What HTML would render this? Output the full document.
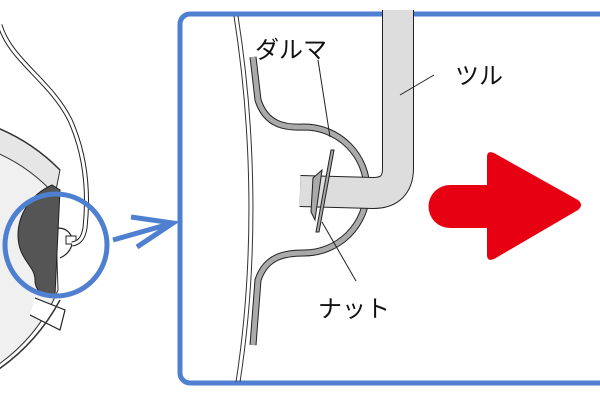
<!DOCTYPE html>
<html><head><meta charset="utf-8"><style>html,body{margin:0;padding:0;background:#fff}svg{display:block}text{font-family:"Liberation Sans","Noto Sans CJK JP",sans-serif;font-size:24px;fill:#111}</style></head>
<body>
<svg width="600" height="400" viewBox="0 0 600 400" xmlns="http://www.w3.org/2000/svg">
<!-- left helmet -->
<path d="M-10,125 A190,190 0 0 1 60,170 L55,195 A170,170 0 0 0 -10,150 Z" fill="#e6e6e6" stroke="#333" stroke-width="1"/>
<path d="M-10,150 A170,170 0 0 1 55,195 L58,290 A170,170 0 0 1 -10,370 Z" fill="#f0f0f0" stroke="#333" stroke-width="1"/>
<path d="M-10,125 A190,190 0 0 1 60,170" fill="none" stroke="#333" stroke-width="1.5"/>
<path d="M52,185 C30,195 18,215 18,235 C18,260 35,265 35,280 C35,292 45,297 55,295 L60,190 Z" fill="#555" stroke="#222" stroke-width="1"/>
<path d="M58,228 C75,228 78,250 60,258" fill="none" stroke="#222" stroke-width="1.2"/>
<rect x="66" y="236" width="10" height="8" fill="#fff" stroke="#222" stroke-width="1"/>
<path d="M35,298 L65,310 L60,330 L30,315" fill="#fff" stroke="#222" stroke-width="1.2"/>
<path d="M-10,375 A200,200 0 0 0 60,300" fill="none" stroke="#333" stroke-width="1.5"/>
<path d="M0,25 C10,60 50,80 70,120 C88,160 88,200 85,228 C83,240 78,243 72,244" fill="none" stroke="#222" stroke-width="5"/>
<path d="M0,25 C10,60 50,80 70,120 C88,160 88,200 85,228 C83,240 78,243 72,244" fill="none" stroke="#fff" stroke-width="3"/>
<circle cx="56" cy="245" r="51" fill="none" stroke="#4f7fd0" stroke-width="5"/>
<path d="M113,240 L173,223 M131,217 L173,223 L137,247" fill="none" stroke="#4f7fd0" stroke-width="5"/>
<!-- box -->
<rect x="180" y="14" width="440" height="369" rx="10" fill="#fff" stroke="#4f7fd0" stroke-width="5"/>
<path d="M234,16 C252,130 255,260 236,382" fill="none" stroke="#333" stroke-width="1"/>
<path d="M238,16 C256,130 259,260 240,382" fill="none" stroke="#333" stroke-width="1"/>
<!-- darma -->
<path d="M253,57 L258,100 C266,125 285,128 304,127 A63,63 0 0 1 304,253 C285,253 266,256 258,280 L253,345" fill="none" stroke="#222" stroke-width="7"/>
<path d="M253,57 L258,100 C266,125 285,128 304,127 A63,63 0 0 1 304,253 C285,253 266,256 258,280 L253,345" fill="none" stroke="#aaa" stroke-width="5"/>
<!-- tsuru -->
<path d="M398,10 L398,168 Q398,193 373,193 L300,191" fill="none" stroke="#222" stroke-width="32"/>
<path d="M398,10 L398,168 Q398,193 373,193 L300,191" fill="none" stroke="#ddd" stroke-width="30"/>
<path d="M334,150 L319,232 L316,232 L331,150 Z" fill="#aaa" stroke="#222" stroke-width="1"/>
<path d="M322,170 L315,220 L311,212 L313,178 Z" fill="#aaa" stroke="#222" stroke-width="1"/>
<path d="M318,60 L330,137 M400,95 L434,75 M322,222 L356,281" stroke="#222" stroke-width="1"/>
<text x="255" y="58">ダルマ</text>
<text x="455" y="84">ツル</text>
<text x="318" y="317">ナット</text>
<!-- red arrow -->
<path d="M450,185 L487,185 L487,157 Q487,150 494,153 L578,200 Q584,205 578,210 L494,259 Q487,262 487,255 L487,228 L450,228 A21.5,21.5 0 0 1 450,185 Z" fill="#e60012"/>
</svg>
</body></html>
